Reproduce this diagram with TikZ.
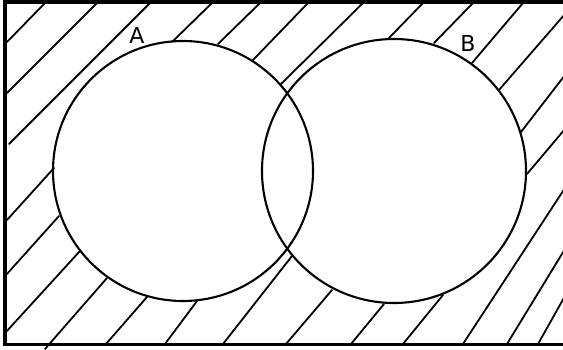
\documentclass[tikz,border=0pt]{standalone}
\usepackage{fontspec}
\setmainfont{DejaVu Sans}
\begin{document}
\begin{tikzpicture}[x=1pt,y=-1pt,
  hatch/.style={line width=1.8pt,line cap=round},
  ring/.style={line width=2.1pt},
  frame/.style={line width=3.6pt},
  lbl/.style={font=\fontsize{22}{26}\selectfont}]
\useasboundingbox (0,0) rectangle (563,350);
% frame (open on the right)
\draw[frame] (566,2) -- (5,2) -- (5,344.5) -- (566,344.5);
% circles
\draw[ring] (183,171) circle[radius=130];
\draw[ring] (394,171) circle[radius=132];
% labels
\node[lbl] (la) at (137,35) {A};
\node[lbl] (lb) at (468,43) {B};
% hatching outside the circles
\foreach \a/\b/\c/\d in {
  45/3/7/42, 97/3/7/93, 150/3/9/144, 212/3/172/42, 260/3/218/44,
  308/3/253/60, 363/3/281/84, 423/3/389/38, 473/3/434/43, 523/3/472/63,
  565/14/499/90, 565/75/521/132, 565/129/527/174, 565/188/463/344,
  565/249/507/344, 565/296/538/344, 443/295/403/344, 384/304/351/344,
  332/290/286/344, 292/256/223/344, 197/301/165/344, 147/297/106/344,
  107/278/45/349, 80/251/6/332, 59/216/6/275, 54/168/7/220}
  \draw[hatch] (\a,\b) -- (\c,\d);
\end{tikzpicture}
\end{document}
